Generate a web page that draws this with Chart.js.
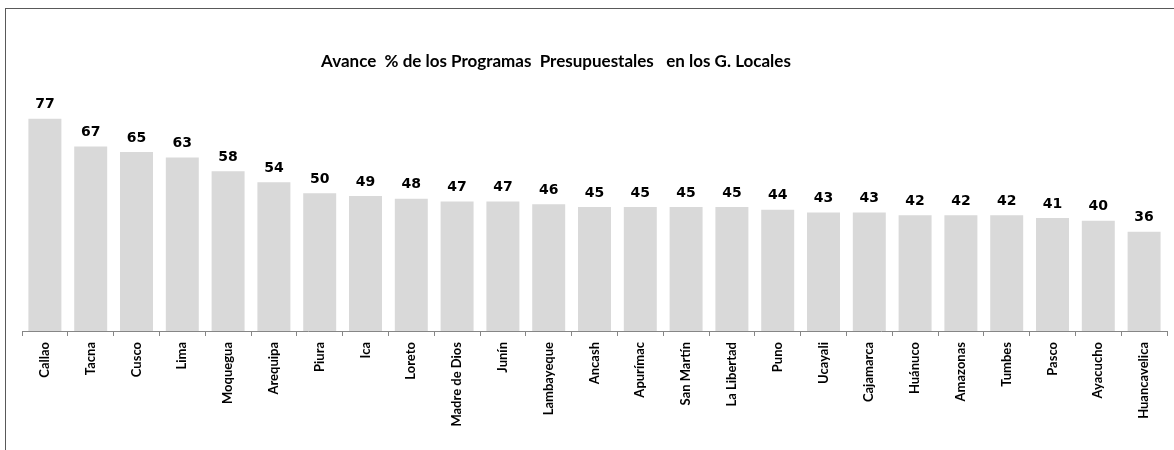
<!DOCTYPE html>
<html>
<head>
<meta charset="utf-8">
<script src="https://cdn.jsdelivr.net/npm/chart.js@4/dist/chart.umd.min.js"></script>
<style>
  html, body { margin: 0; padding: 0; background: #fff; }
  #wrap { position: relative; width: 1174px; height: 450px; overflow: hidden; }
  #frame { position: absolute; left: 5px; top: 8px; width: 1200px; height: 500px;
           border-left: 1.5px solid #595959; border-top: 1.5px solid #595959; }
  canvas { position: absolute; left: 0; top: 0; }
</style>
</head>
<body>
<div id="wrap">
  <div id="frame"></div>
  <canvas id="chart" width="1174" height="450"></canvas>
</div>
<script>
// Avance % de programas presupuestales por región (gobiernos locales)
const TITLE = 'Avance  % de los Programas  Presupuestales   en los G. Locales';

const regiones = [
  'Callao', 'Tacna', 'Cusco', 'Lima', 'Moquegua', 'Arequipa', 'Piura', 'Ica',
  'Loreto', 'Madre de Dios', 'Junín', 'Lambayeque', 'Ancash', 'Apurímac',
  'San Martín', 'La Libertad', 'Puno', 'Ucayali', 'Cajamarca', 'Huánuco',
  'Amazonas', 'Tumbes', 'Pasco', 'Ayacucho', 'Huancavelica'
];

const avance = [
  77, 67, 65, 63, 58, 54, 50, 49, 48, 47, 47, 46, 45, 45,
  45, 45, 44, 43, 43, 42, 42, 42, 41, 40, 36
];

const Y_MAX = 90;

// value labels above each bar + title text
const barLabels = {
  id: 'barLabels',
  afterDatasetsDraw(chart) {
    const ctx = chart.ctx;
    const meta = chart.getDatasetMeta(0);
    ctx.save();
    ctx.fillStyle = '#000';
    ctx.font = 'bold 14px "DejaVu Sans"';
    ctx.textAlign = 'center';
    ctx.textBaseline = 'bottom';
    meta.data.forEach((bar, i) => {
      ctx.fillText(String(avance[i]), bar.x, bar.y - 7);
    });

    ctx.font = 'bold 17px Lato';
    ctx.textBaseline = 'alphabetic';
    ctx.fillText(TITLE, 556, 67);
    ctx.restore();
  }
};

new Chart(document.getElementById('chart'), {
  type: 'bar',
  data: {
    labels: regiones,
    datasets: [{
      data: avance,
      backgroundColor: '#d9d9d9',
      borderWidth: 0,
      barPercentage: 0.72,
      categoryPercentage: 1
    }]
  },
  options: {
    responsive: false,
    animation: false,
    layout: { padding: { left: 22, right: 7, top: 83, bottom: 0 } },
    plugins: {
      legend: { display: false },
      title: { display: false },
      tooltip: { enabled: false }
    },
    scales: {
      x: {
        afterFit: s => { s.height = 119; },
        border: { color: '#868686', width: 1 },
        grid: {
          offset: true,
          drawOnChartArea: false,
          drawTicks: true,
          tickLength: 5,
          color: '#868686'
        },
        ticks: {
          color: '#000',
          font: { family: 'Lato', size: 13, weight: 'bold' },
          minRotation: 90,
          maxRotation: 90,
          autoSkip: false,
          padding: 6
        }
      },
      y: {
        display: false,
        min: 0,
        max: Y_MAX
      }
    }
  },
  plugins: [barLabels]
});
</script>
</body>
</html>
